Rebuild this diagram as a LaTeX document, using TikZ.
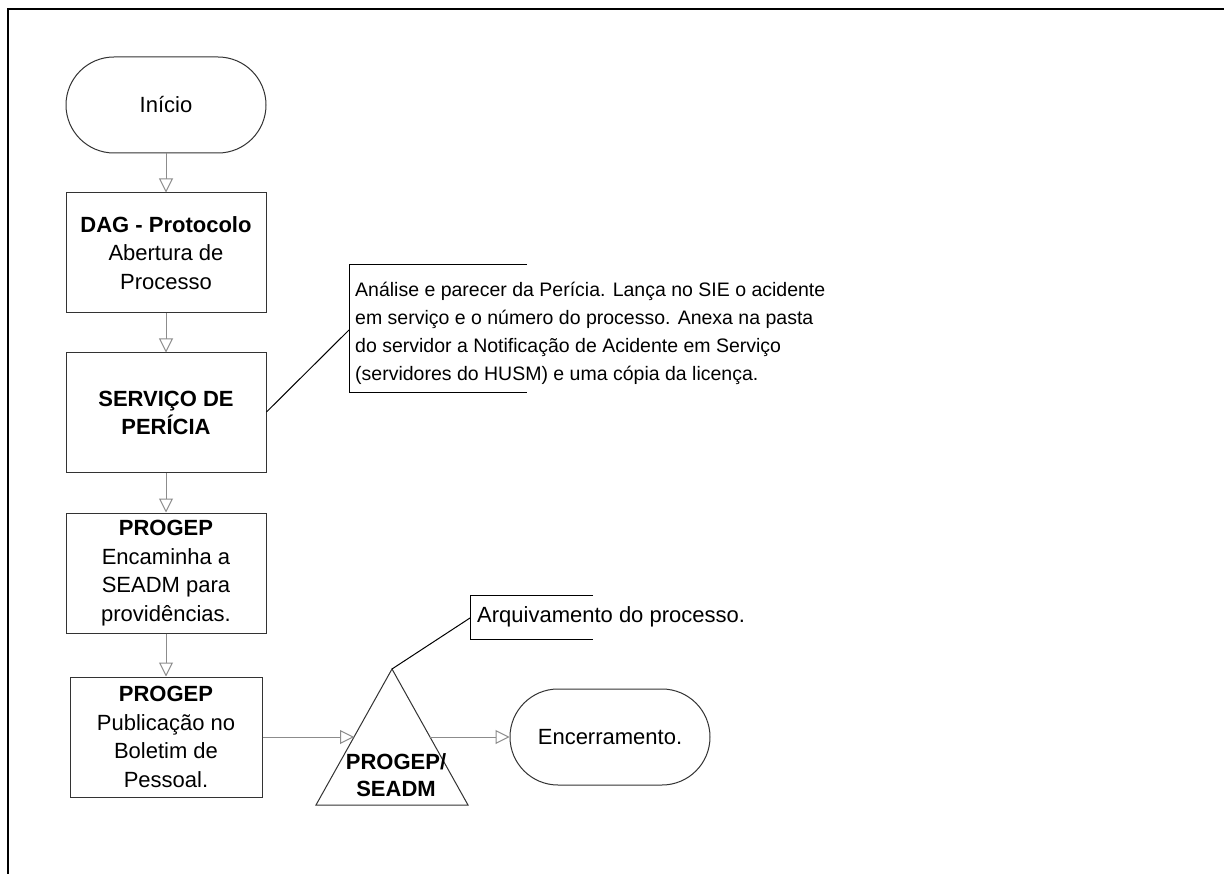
\documentclass[tikz,border=0pt]{standalone}
\usepackage{fontspec}
\setmainfont{Liberation Sans}
\usetikzlibrary{arrows.meta}
\begin{document}
\begin{tikzpicture}[x=1pt,y=-1pt,
  stepbox/.style={draw=black!80, line width=1pt, minimum width=200pt, minimum height=120pt,
    align=center, inner sep=0pt, font=\fontsize{22}{28.5}\selectfont},
  term/.style={draw=black!80, line width=1pt, minimum width=200pt, minimum height=96pt,
    rounded corners=48pt, inner sep=0pt, font=\fontsize{22}{28.5}\selectfont},
  flow/.style={draw=black!45, line width=1pt,
    -{Triangle[open,length=14pt,width=14pt,fill=white]}},
  notelink/.style={draw=black, line width=1pt},
  notetext/.style={align=left, inner sep=0pt, anchor=west}]
  \useasboundingbox (0,0) rectangle (1224,874);
  \fill[white] (0,0) rectangle (1224,874);

  % page frame (top and left edges)
  \draw[line width=2pt] (8,874) -- (8,9) -- (1224,9);

  % flow steps
  \node[term] (inicio) at (166,105) {Início};
  \node[stepbox] (dag) at (166,253) {\textbf{DAG - Protocolo}\\Abertura de\\Processo};
  \node[stepbox] (pericia) at (166,413) {\textbf{SERVIÇO DE}\\\textbf{PERÍCIA}};
  \node[stepbox] (encam) at (166,573) {\textbf{PROGEP}\\Encaminha a\\SEADM para\\providências.};
  \node[stepbox, minimum width=192pt] (public) at (166,737) {\textbf{PROGEP}\\Publicação no\\Boletim de\\Pessoal.};

  % triangle step
  \coordinate (apex) at (392,669);
  \coordinate (baseL) at (316,805);
  \coordinate (baseR) at (468,805);
  \draw[draw=black!80, line width=1pt] (apex) -- (baseR) -- (baseL) -- cycle;
  \coordinate (triIn) at (354,737);
  \coordinate (triOut) at (430,737);
  \node[align=center, inner sep=0pt, font=\fontsize{22}{27.5}\selectfont\bfseries]
    (seadm) at (396,775) {PROGEP/\\SEADM};

  \node[term] (fim) at (610,737) {Encerramento.};

  % connectors
  \draw[flow] (inicio) -- (dag);
  \draw[flow] (dag) -- (pericia);
  \draw[flow] (pericia) -- (encam);
  \draw[flow] (encam) -- (public);
  \draw[flow] (public.east |- triIn) -- (triIn);
  \draw[flow] (triOut) -- (fim.west);

  % annotation: pericia
  \coordinate (n1top) at (527,265);
  \coordinate (n1bot) at (527,393);
  \coordinate (n1L) at (349,330);
  \draw[notelink] (n1top) -- (349,265) -- (349,393) -- (n1bot);
  \node[notetext, font=\fontsize{19.5}{28}\selectfont] (n1) at (355,333)
    {Análise e parecer da Perícia. Lança no SIE o acidente\\
     em serviço e o número do processo. Anexa na pasta\\
     do servidor a Notificação de Acidente em Serviço\\
     (servidores do HUSM) e uma cópia da licença.};
  \draw[notelink] (pericia.east) ++(0,-1) -- (n1L);

  % annotation: archive
  \coordinate (n2top) at (593,595);
  \coordinate (n2bot) at (593,639);
  \coordinate (n2L) at (470,618);
  \draw[notelink] (n2top) -- (470,595) -- (470,639) -- (n2bot);
  \node[notetext, font=\fontsize{22}{28.5}\selectfont] (n2) at (477,617) {Arquivamento do processo.};
  \draw[notelink] (apex) -- (n2L);
\end{tikzpicture}
\end{document}
